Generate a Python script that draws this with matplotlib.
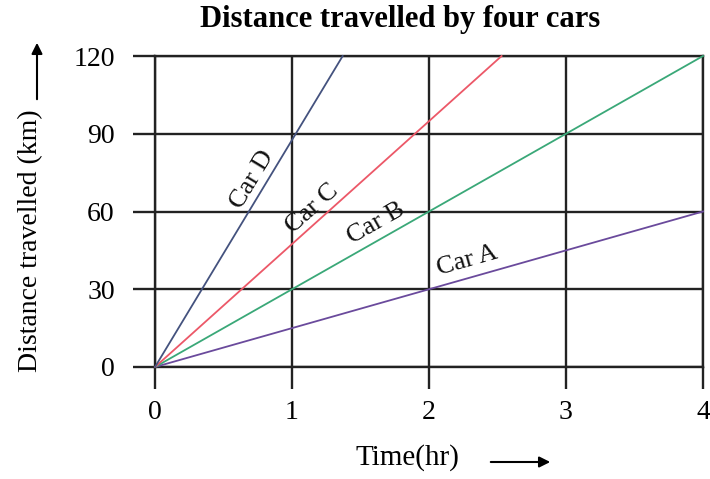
import matplotlib
matplotlib.use("Agg")
import matplotlib.pyplot as plt
import numpy as np

plt.rcParams['font.family'] = ['Liberation Serif', 'DejaVu Serif']

# Each car's line runs from the origin to its end point
cars = ["Car A", "Car B", "Car C", "Car D"]
end_time = [4.0, 4.0, 2.53, 1.37]          # hr
end_distance = [60, 120, 120, 120]         # km
colors = ["#6a4a9c", "#3aa878", "#ec5868", "#44527e"]

# Label placement along each line (data coords)
label_x = [2.28, 1.61, 1.15, 0.71]
label_y = [40.9, 55.2, 60.9, 72.2]

x_ticks = [0, 1, 2, 3, 4]
y_ticks = [0, 30, 60, 90, 120]

W, H = 710, 479
fig = plt.figure(figsize=(W / 100, H / 100), dpi=100)
ax = fig.add_axes([155 / W, 1 - 367 / H, (703 - 155) / W, (367 - 56) / H])

ax.set_xlim(0, 4)
ax.set_ylim(0, 120)
ax.set_xticks(x_ticks)
ax.set_yticks(y_ticks)
ax.grid(True, color="#222222", linewidth=1.7)
ax.set_axisbelow(True)
for sp in ax.spines.values():
    sp.set_color("#222222")
    sp.set_linewidth(1.7)
ax.tick_params(axis="both", direction="out", length=16, width=1.7,
               color="#222222", labelsize=20)
ax.tick_params(axis="y", pad=13)
ax.tick_params(axis="x", pad=8)

fig.canvas.draw()
for name, t, d, c, lx, ly in zip(cars, end_time, end_distance, colors, label_x, label_y):
    ax.plot([0, t], [0, d], color=c, linewidth=1.3, clip_on=False, zorder=3)
    p0 = ax.transData.transform((0, 0))
    p1 = ax.transData.transform((t, d))
    ang = np.degrees(np.arctan2(p1[1] - p0[1], p1[0] - p0[0]))
    ax.text(lx, ly, name, rotation=ang, rotation_mode="anchor",
            ha="center", va="center", fontsize=19, color="#111111", zorder=4)

fig.text(400 / W, 1 - 20 / H, "Distance travelled by four cars",
         ha="center", va="center", fontsize=22, fontweight="bold")

fig.text(31 / W, 1 - 241 / H, "Distance travelled (km)", rotation=90,
         ha="center", va="center", fontsize=20)
ax.annotate("", xy=(37 / W, 1 - 40 / H), xytext=(37 / W, 1 - 102 / H),
            xycoords="figure fraction", textcoords="figure fraction",
            arrowprops=dict(arrowstyle="-|>", color="black", lw=1.5,
                            mutation_scale=16))

fig.text(407 / W, 1 - 458 / H, "Time(hr)", ha="center", va="center", fontsize=21)
ax.annotate("", xy=(553 / W, 1 - 462 / H), xytext=(488 / W, 1 - 462 / H),
            xycoords="figure fraction", textcoords="figure fraction",
            arrowprops=dict(arrowstyle="-|>", color="black", lw=1.5,
                            mutation_scale=16))

fig.savefig("out.png", dpi=100)
